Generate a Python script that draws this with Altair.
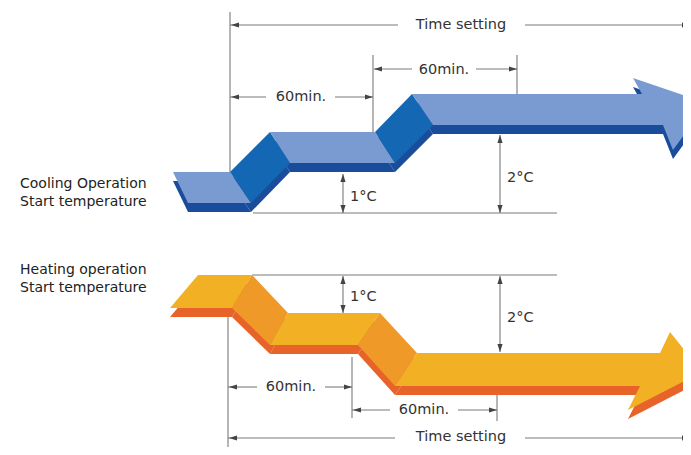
import altair as alt

# ---------------- data (diagram units = reference pixels) ----------------
# Ribbon faces: (face role, polygon corner list)
cool_faces = [
    ("top",   [(173, 172), (230, 172), (251, 203), (188, 203)]),
    ("riser", [(230, 172), (270, 132), (290, 163), (251, 203)]),
    ("top",   [(270, 132), (375, 132), (395, 163), (290, 163)]),
    ("riser", [(375, 132), (412, 94), (433, 125), (395, 163)]),
    ("top",   [(412, 94), (642, 94), (633, 78), (707, 103), (673, 150), (663, 125), (433, 125)]),
]
heat_faces = [
    ("top",   [(198, 275), (252, 275), (232, 308), (170, 308)]),
    ("riser", [(252, 275), (288, 313), (270, 345), (232, 308)]),
    ("top",   [(288, 313), (380, 313), (358, 345), (270, 345)]),
    ("riser", [(380, 313), (417, 353), (395, 386), (358, 345)]),
    ("top",   [(417, 353), (660, 353), (670, 332), (702, 372), (628, 410), (640, 386), (395, 386)]),
]

# Dimension / guide lines (x1, y1, x2, y2)
guide_lines = [
    # cooling
    (230, 12, 230, 172),
    (230, 25, 398, 25), (525, 25, 690, 25),
    (230, 97, 266, 97), (335, 97, 373, 97),
    (373, 55, 373, 132),
    (374, 69, 412, 69), (476, 69, 517, 69),
    (517, 55, 517, 94),
    (253, 213, 557, 213),
    (343, 174, 343, 213),
    (500, 135, 500, 213),
    # heating
    (252, 275, 557, 275),
    (343, 276, 343, 313),
    (500, 276, 500, 352),
    (228, 317, 228, 455),
    (228, 387, 257, 387), (325, 387, 352, 387),
    (352, 357, 352, 418),
    (352, 410, 390, 410), (458, 410, 497, 410),
    (497, 395, 497, 421),
    (228, 438, 395, 438), (525, 438, 690, 438),
]

# Arrow heads: (tip x, tip y, direction)
arrow_heads = [
    (231, 25, "L"), (690, 25, "R"),
    (231, 97, "L"), (373, 97, "R"),
    (374, 69, "L"), (517, 69, "R"),
    (343, 174, "U"), (343, 213, "D"),
    (500, 135, "U"), (500, 213, "D"),
    (343, 276, "U"), (343, 313, "D"),
    (500, 276, "U"), (500, 352, "D"),
    (229, 387, "L"), (352, 387, "R"),
    (353, 410, "L"), (497, 410, "R"),
    (229, 438, "L"), (690, 438, "R"),
]

# Labels
dim_labels = ["Time setting", "60min.", "60min.", "1°C", "2°C",
              "1°C", "2°C", "60min.", "60min.", "Time setting"]
dim_x = [461, 301, 444, 350, 507, 350, 507, 291, 424, 461]
dim_y = [25, 97, 70, 197, 178, 297, 318, 387, 410, 437]
dim_align = ["center", "center", "center", "left", "left",
             "left", "left", "center", "center", "center"]

side_labels = ["Cooling Operation", "Start temperature",
               "Heating operation", "Start temperature"]
side_x = [20, 20, 20, 20]
side_y = [184, 202, 270, 288]

# ---------------- styles ----------------
BLUE = {"top": "#7A9BD1", "riser": "#1467B3", "shadow": "#1A4C9C"}
ORANGE = {"top": "#F2B124", "riser": "#EF9A28", "shadow": "#E8632A"}
SHADOW_DY = 9
LINE_COLOR = "#7a7a7a"
HEAD_COLOR = "#444444"
TEXT_COLOR = "#333333"
FONT = "DejaVu Sans"


def ring(pts, dy=0):
    r = [[float(x), float(y + dy)] for x, y in pts]
    return r + [r[0]]


def poly(pts, fill, dy=0):
    return {"type": "Feature",
            "geometry": {"type": "Polygon", "coordinates": [ring(pts, dy)]},
            "properties": {"fill": fill}}


shadow_feats, face_feats = [], []
for faces, pal in ((cool_faces, BLUE), (heat_faces, ORANGE)):
    for role, pts in faces:
        shadow_feats.append(poly(pts, pal["shadow"], SHADOW_DY))
    for role, pts in faces:
        face_feats.append(poly(pts, pal[role]))

line_feats = [{"type": "Feature",
               "geometry": {"type": "LineString",
                            "coordinates": [[float(a), float(b)], [float(c), float(d)]]},
               "properties": {"fill": LINE_COLOR}}
              for a, b, c, d in guide_lines]

HL, HW = 8, 2.6
head_feats = []
for x, y, d in arrow_heads:
    if d == "L":
        pts = [(x, y), (x + HL, y - HW), (x + HL, y + HW)]
    elif d == "R":
        pts = [(x, y), (x - HL, y - HW), (x - HL, y + HW)]
    elif d == "U":
        pts = [(x, y), (x - HW, y + HL), (x + HW, y + HL)]
    else:
        pts = [(x, y), (x - HW, y - HL), (x + HW, y - HL)]
    head_feats.append(poly(pts, HEAD_COLOR))

proj = dict(type="identity", scale=1, translate=[-8, -8])


def shapes(feats, **mark):
    return alt.Chart(alt.InlineData(values=feats)).mark_geoshape(**mark).encode(
        color=alt.Color("properties.fill:N", scale=None)
    ).project(**proj)


shadow_layer = shapes(shadow_feats, strokeWidth=0)
face_layer = shapes(face_feats, strokeWidth=0)
line_layer = alt.Chart(alt.InlineData(values=line_feats)).mark_geoshape(
    filled=False, stroke=LINE_COLOR, strokeWidth=1.1
).project(**proj)
head_layer = shapes(head_feats, strokeWidth=0)

dim_rows = [{"t": t, "x": x, "y": y, "a": a}
            for t, x, y, a in zip(dim_labels, dim_x, dim_y, dim_align)]
text_layers = []
for a in ("center", "left"):
    rows = [r for r in dim_rows if r["a"] == a]
    text_layers.append(
        alt.Chart(alt.InlineData(values=rows)).mark_text(
            align=a, baseline="middle", font=FONT, fontSize=14.5, color=TEXT_COLOR
        ).encode(longitude="x:Q", latitude="y:Q", text="t:N").project(**proj)
    )

side_rows = [{"t": t, "x": x, "y": y} for t, x, y in zip(side_labels, side_x, side_y)]
side_layer = alt.Chart(alt.InlineData(values=side_rows)).mark_text(
    align="left", baseline="middle", font=FONT, fontSize=14, color="#222222"
).encode(longitude="x:Q", latitude="y:Q", text="t:N").project(**proj)

chart = alt.layer(
    line_layer, head_layer, shadow_layer, face_layer, *text_layers, side_layer
).properties(
    width=675, height=439, padding=0, autosize=alt.AutoSizeParams(type="none"),
    background="white"
).configure_view(stroke=None)

chart.save("out.html", embed_options={"renderer": "svg", "actions": False})
